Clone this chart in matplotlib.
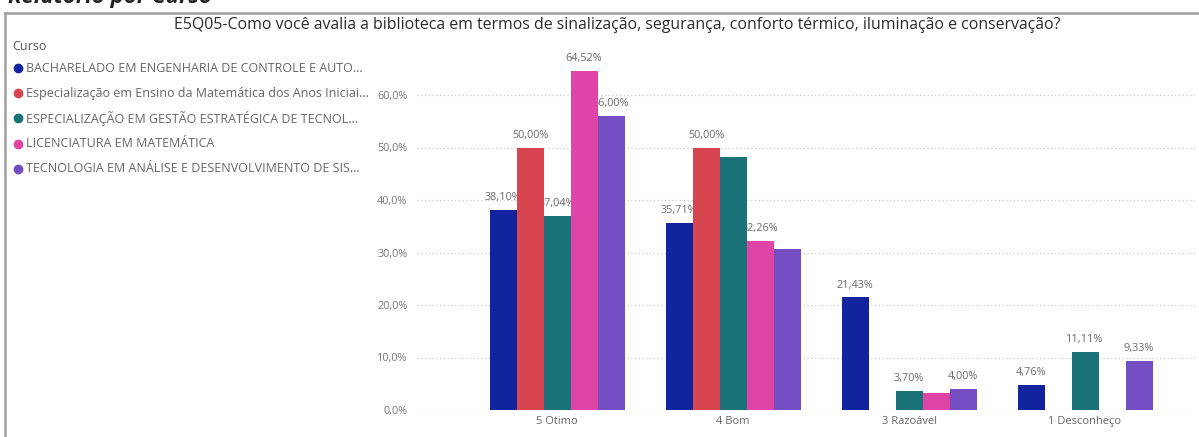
import matplotlib
matplotlib.use("Agg")
import matplotlib.pyplot as plt
from matplotlib.lines import Line2D
import numpy as np

plt.rcParams['font.family'] = ['Open Sans', 'DejaVu Sans']

categories = ["5 Otimo", "4 Bom", "3 Razoável", "1 Desconheço"]
series_names = [
    "BACHARELADO EM ENGENHARIA DE CONTROLE E AUTO...",
    "Especialização em Ensino da Matemática dos Anos Iniciai...",
    "ESPECIALIZAÇÃO EM GESTÃO ESTRATÉGICA DE TECNOL...",
    "LICENCIATURA EM MATEMÁTICA",
    "TECNOLOGIA EM ANÁLISE E DESENVOLVIMENTO DE SIS...",
]
bacharelado = [38.10, 35.71, 21.43, 4.76]
espec_ensino = [50.00, 50.00, 0.0, 0.0]
espec_gestao = [37.04, 48.15, 3.70, 11.11]
licenciatura = [64.52, 32.26, 3.23, 0.0]
tecnologia = [56.00, 30.67, 4.00, 9.33]
# which data labels are shown in the reference (overlapping ones are hidden)
label_shown = [
    [True, True, True, True],
    [True, True, False, False],
    [True, False, True, True],
    [True, True, False, False],
    [True, False, True, True],
]
yticks = [0, 10, 20, 30, 40, 50, 60]
colors = ["#12239E", "#D64550", "#197278", "#E044A7", "#744EC2"]

series = [bacharelado, espec_ensino, espec_gestao, licenciatura, tecnologia]

W, H = 1199, 437
fig = plt.figure(figsize=(W / 100, H / 100), dpi=100)

# axes geometry (pixels)
ax_left, ax_right = 417, 1197
y0_px, per10 = 410, 52.5
ymax = 70
ax_top = y0_px - per10 * ymax / 10
ax = fig.add_axes([ax_left / W, (H - y0_px) / H, (ax_right - ax_left) / W, (y0_px - ax_top) / H])

spacing = 176.0
x_first = 557.0
xl = (ax_left - x_first) / spacing
xr = (ax_right - x_first) / spacing
ax.set_xlim(xl, xr)
ax.set_ylim(0, ymax)

bw = 27.0 / spacing
x = np.arange(len(categories))
for i, (vals, c) in enumerate(zip(series, colors)):
    xs = x + (i - 2) * bw
    for xi, v, show in zip(xs, vals, label_shown[i]):
        if v > 0:
            ax.bar(xi, v, width=bw, color=c, zorder=3, linewidth=0)
            if show:
                ax.annotate(f"{v:.2f}%".replace(".", ","), (xi, v), xytext=(0, 5),
                            textcoords="offset points", ha="center", va="bottom",
                            fontsize=7.8, color="#6a6a6a", zorder=2)

for s in ax.spines.values():
    s.set_visible(False)
ax.set_yticks(yticks)
ax.set_yticklabels([f"{t:.1f}%".replace(".", ",") for t in yticks], fontsize=7.8, color="#777777")
ax.tick_params(axis="y", length=0, pad=7)
ax.yaxis.grid(True, linestyle=(0, (1, 2)), color="#c8c8c8", linewidth=0.9, zorder=0)
ax.set_xticks(x)
ax.set_xticklabels(categories, fontsize=8, color="#666666")
ax.tick_params(axis="x", length=0, pad=4)
ax.set_axisbelow(True)

# title
fig.text(617 / W, 1 - 25 / H, "E5Q05-Como você avalia a biblioteca em termos de sinalização, segurança, conforto térmico, iluminação e conservação?",
         ha="center", va="center", fontsize=11.4, color="#2a2a2a")

# header (partially cut at top, as in the reference)
fig.text(8 / W, 1 - 2.5 / H, "Relatório por Curso", ha="left", va="baseline",
         fontsize=16, fontweight="bold", fontstyle="italic", color="#222222")

# frame
fig.add_artist(Line2D([5 / W, 1.0], [1 - 13 / H, 1 - 13 / H], transform=fig.transFigure,
                      color="#a0a0a0", linewidth=1.8))
fig.add_artist(Line2D([5 / W, 5 / W], [1 - 13 / H, 0], transform=fig.transFigure,
                      color="#a0a0a0", linewidth=1.8))

# legend
fig.text(12 / W, 1 - 47 / H, "Curso", ha="left", va="center", fontsize=9, color="#555555")
for k, (name, c) in enumerate(zip(series_names, colors)):
    yy = 1 - (68 + 25.2 * k) / H
    fig.add_artist(Line2D([18 / W], [yy], marker="o", markersize=6, color=c,
                          transform=fig.transFigure, linestyle="none"))
    fig.text(26 / W, yy, name, ha="left", va="center", fontsize=9, color="#666666")

fig.savefig("out.png", dpi=100, facecolor="white")
